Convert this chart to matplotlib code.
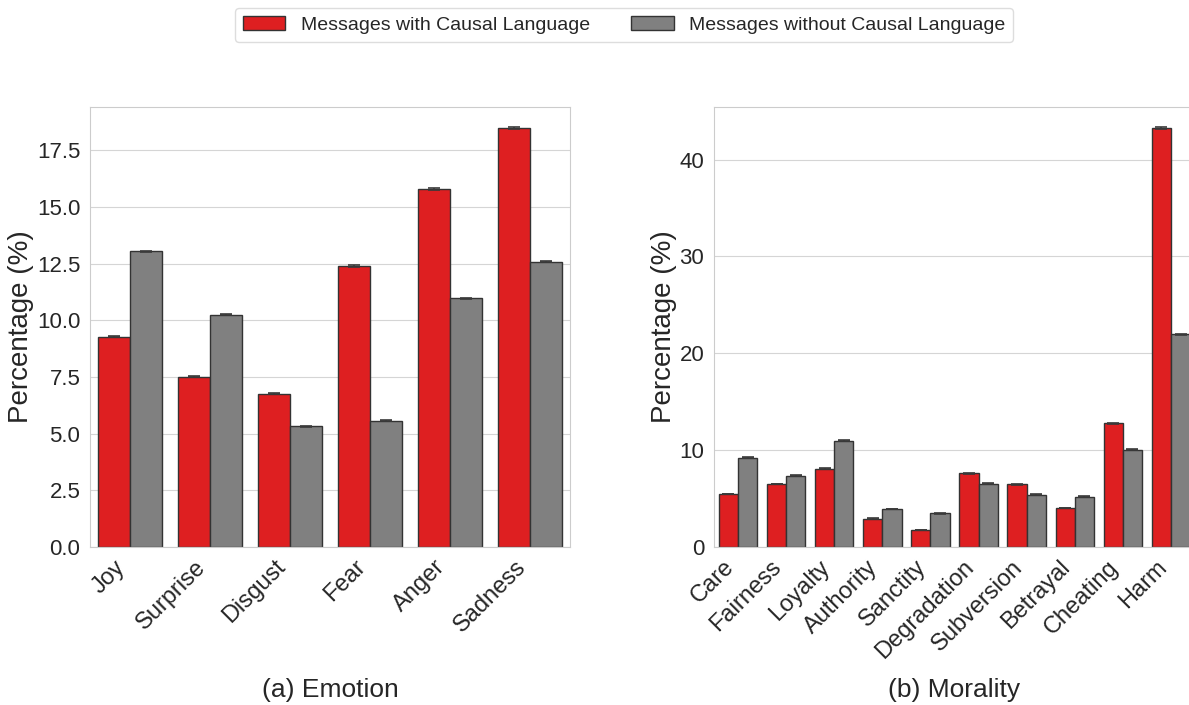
import matplotlib
matplotlib.use("Agg")
import matplotlib.pyplot as plt
import numpy as np
import seaborn as sns

# Share of messages per category (%), with and without causal language
emotions = ["Joy", "Surprise", "Disgust", "Fear", "Anger", "Sadness"]
emotion_causal = [9.27, 7.51, 6.76, 12.40, 15.79, 18.48]
emotion_noncausal = [13.05, 10.25, 5.33, 5.57, 10.97, 12.59]
emotion_err_causal = [0.02, 0.02, 0.02, 0.03, 0.03, 0.03]
emotion_err_noncausal = [0.02, 0.02, 0.02, 0.02, 0.02, 0.02]

morals = ["Care", "Fairness", "Loyalty", "Authority", "Sanctity",
          "Degradation", "Subversion", "Betrayal", "Cheating", "Harm"]
moral_causal = [5.48, 6.51, 8.06, 2.93, 1.76, 7.61, 6.48, 4.03, 12.78, 43.27]
moral_noncausal = [9.23, 7.37, 10.99, 3.93, 3.48, 6.55, 5.41, 5.20, 10.03, 21.98]
moral_err_causal = [0.04, 0.04, 0.05, 0.03, 0.03, 0.05, 0.04, 0.04, 0.06, 0.08]
moral_err_noncausal = [0.04, 0.04, 0.05, 0.03, 0.03, 0.04, 0.03, 0.03, 0.04, 0.06]

series_labels = ["Messages with Causal Language", "Messages without Causal Language"]
colors = ["#de1f21", "#808080"]

sns.set_style("whitegrid")
plt.rcParams["font.family"] = ["Liberation Sans", "DejaVu Sans"]
plt.rcParams["axes.edgecolor"] = "#cccccc"
plt.rcParams["grid.color"] = "#d5d5d5"

fig = plt.figure(figsize=(11.89, 7.05), dpi=100)
ax1 = fig.add_axes([90 / 1189, 158 / 705, 480 / 1189, 440 / 705])
ax2 = fig.add_axes([714 / 1189, 158 / 705, 481 / 1189, 440 / 705])


def grouped_bars(ax, cats, causal, noncausal, err_c, err_n):
    x = np.arange(len(cats))
    w = 0.4
    handles = []
    for off, vals, errs, col, lab in [(-w / 2, causal, err_c, colors[0], series_labels[0]),
                                      (w / 2, noncausal, err_n, colors[1], series_labels[1])]:
        h = ax.bar(x + off, vals, width=w, color=col, edgecolor="#333333",
                   linewidth=1.0, label=lab, zorder=2)
        ax.errorbar(x + off, vals, yerr=errs, fmt="none", ecolor="#3a3a3a",
                    elinewidth=1.2, capsize=4.5, capthick=1.2, zorder=3)
        handles.append(h)
    ax.set_xlim(-0.5, len(cats) - 0.5)
    top = max(max(causal), max(noncausal)) * 1.05
    ax.set_ylim(0, top)
    ax.set_xticks(x)
    ax.set_xticklabels(cats, rotation=45, ha="right",
                       fontsize=17, color="#262626")
    ax.tick_params(axis="y", labelsize=16, labelcolor="#262626")
    ax.tick_params(axis="x", pad=3)
    ax.set_ylabel("Percentage (%)", fontsize=20, color="#262626", labelpad=2)
    ax.grid(axis="x", visible=False)
    ax.set_axisbelow(True)
    return handles


handles = grouped_bars(ax1, emotions, emotion_causal, emotion_noncausal,
                       emotion_err_causal, emotion_err_noncausal)
grouped_bars(ax2, morals, moral_causal, moral_noncausal,
             moral_err_causal, moral_err_noncausal)
ax1.set_yticks(np.arange(0, 18, 2.5))
ax1.set_yticklabels([f"{v:.1f}" for v in np.arange(0, 18, 2.5)])
ax2.set_yticks([0, 10, 20, 30, 40])

fig.text(330 / 1189, 1 - 690 / 705, "(a) Emotion", ha="center", va="center",
         fontsize=19, color="#262626")
fig.text(954 / 1189, 1 - 690 / 705, "(b) Morality", ha="center", va="center",
         fontsize=19, color="#262626")

leg = fig.legend(handles, series_labels, loc="center", ncol=2,
                 bbox_to_anchor=(624 / 1189, 1 - 25 / 705), fontsize=14,
                 frameon=True, handlelength=2.2, columnspacing=2.1,
                 borderpad=0.4)
leg.get_frame().set_edgecolor("#d5d5d5")
for t in leg.get_texts():
    t.set_color("#262626")

fig.savefig("out.png", dpi=100)
